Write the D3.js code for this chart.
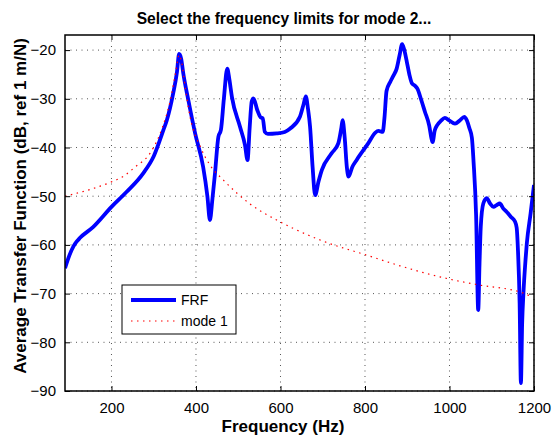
<!DOCTYPE html>
<html>
<head>
<meta charset="utf-8">
<script src="https://cdn.jsdelivr.net/npm/d3@7"></script>
<style>
  body { margin: 0; background: #fff; }
  svg { font-family: "Liberation Sans", Arial, Helvetica, sans-serif; }
</style>
</head>
<body>
<div id="chart"></div>
<script>
// Data: [frequency (Hz), level (dB)]
var frf = [
  [90,-64.8],[98,-62.7],[110,-60.3],[117,-59.4],[125,-58.6],[157,-56.3],[200,-52.2],
  [236,-49.1],[275,-45.3],[300,-41.8],[323,-36.4],[331,-34.4],[346,-28.9],[355,-24.5],
  [360,-20.8],[365,-21.8],[370,-24.8],[382,-30.3],[398,-37.1],[417,-44],[427,-50],
  [433,-54.9],[439,-50.5],[445,-45.3],[453,-37.8],[459,-36.4],[466,-30],[474,-23.8],
  [479,-26],[485,-29.6],[504,-35.7],[516,-39.5],[522,-42.6],[527,-36],[532,-30.5],
  [536,-29.9],[545,-32.3],[553,-33.8],[558,-34],[563,-36.8],[570,-37.2],[591,-37.1],
  [610,-36.8],[623,-36.1],[646,-33.7],[655,-31],[660,-29.5],[665,-32],[670,-35.7],
  [676,-44],[682,-49.8],[690,-47],[698,-44.6],[721,-41.2],[737,-39.1],[744,-36],
  [747,-34.4],[752,-38],[757,-44],[761,-46],[770,-44],[780,-42.6],[808,-39.1],
  [824,-37],[832,-36.6],[842,-36.8],[846,-34],[851,-28.4],[860,-26.5],[867,-25.3],
  [875,-23.8],[882,-21],[888,-18.8],[893,-20],[899,-22.4],[905,-25],[911,-26.8],
  [918,-27.3],[924,-27.9],[933,-30.2],[942,-32.7],[952,-35.5],[957,-38],[960,-38.9],
  [965,-36.5],[971,-35.4],[980,-34.5],[989,-33.9],[1000,-34.5],[1013,-35.1],[1025,-34.4],
  [1035,-33.7],[1041,-34.4],[1047,-36],[1053,-38],[1057,-43],[1063,-54],[1068,-73.4],
  [1071,-64],[1074,-56.3],[1080,-51.5],[1088,-50.4],[1096,-51.5],[1104,-52.2],
  [1112,-51.8],[1119,-51.5],[1127,-52.5],[1135,-53.2],[1145,-54.2],[1155,-55.2],
  [1159,-56.5],[1162,-61],[1166,-72],[1169,-88.4],[1172,-76],[1175,-69.9],[1180,-63],
  [1183,-59.7],[1192,-53.5],[1200,-47.7]
];

var mode1 = [
  [90,-50],[150,-48.6],[196,-47.2],[230,-45.8],[256,-44],[291,-41.2],[320,-36],
  [340,-30],[352,-24.5],[360,-21],[366,-22.5],[375,-28],[386,-33.7],[410,-39.8],
  [433,-43.6],[465,-46.7],[528,-51.6],[591,-54.9],[630,-56.6],[700,-59.2],[800,-62],
  [883,-64.3],[930,-65.5],[1009,-67.2],[1068,-68.2],[1175,-69.9],[1190,-70.5]
];

var xTicks = [200, 400, 600, 800, 1000, 1200];
var yTicks = [-90, -80, -70, -60, -50, -40, -30, -20];
var xLimits = [90, 1200];
var yLimits = [-90, -16.9];

var legendNames = ["FRF", "mode 1"];
var titleText = "Select the frequency limits for mode 2...";
var xLabelText = "Frequency (Hz)";
var yLabelText = "Average Transfer Function (dB, ref 1 m/N)";

//Margins and dimensions
var W = 552, H = 440;
var margin = { top: 35, right: 18, bottom: 49, left: 65 },
    width = W - margin.left - margin.right,
    height = H - margin.top - margin.bottom;

var svg = d3.select("#chart")
    .append("svg")
    .attr("width", W)
    .attr("height", H);

var g = svg.append("g")
    .attr("transform", "translate(" + margin.left + "," + margin.top + ")");

var x = d3.scaleLinear().domain(xLimits).range([0, width]);
var y = d3.scaleLinear().domain(yLimits).range([height, 0]);

// grid
g.append("g").selectAll("line")
    .data(xTicks)
    .enter().append("line")
    .attr("x1", function (d) { return x(d); })
    .attr("x2", function (d) { return x(d); })
    .attr("y1", 0).attr("y2", height)
    .attr("stroke", "#555")
    .attr("stroke-width", 1)
    .attr("stroke-dasharray", "1,4.5");

g.append("g").selectAll("line")
    .data(yTicks)
    .enter().append("line")
    .attr("y1", function (d) { return y(d); })
    .attr("y2", function (d) { return y(d); })
    .attr("x1", 0).attr("x2", width)
    .attr("stroke", "#555")
    .attr("stroke-width", 1)
    .attr("stroke-dasharray", "1,4.5");

// clip
svg.append("defs").append("clipPath").attr("id", "clip")
    .append("rect").attr("width", width).attr("height", height);

var line = d3.line()
    .x(function (d) { return x(d[0]); })
    .y(function (d) { return y(d[1]); })
    .curve(d3.curveMonotoneX);

var plot = g.append("g").attr("clip-path", "url(#clip)");

plot.append("path")
    .datum(frf)
    .attr("fill", "none")
    .attr("stroke", "#0000ff")
    .attr("stroke-width", 3.8)
    .attr("stroke-linejoin", "round")
    .attr("d", line);

plot.append("path")
    .datum(mode1)
    .attr("fill", "none")
    .attr("stroke", "#ff0000")
    .attr("stroke-width", 1.2)
    .attr("stroke-dasharray", "1.5,4.5")
    .attr("d", line);

// axes (ticks inside, box)
var xAxis = g.append("g")
    .attr("transform", "translate(0," + height + ")")
    .call(d3.axisBottom(x).tickValues(xTicks).tickSize(-5).tickPadding(11)
        .tickFormat(d3.format("d")));
var xAxisTop = g.append("g")
    .call(d3.axisTop(x).tickValues(xTicks).tickSize(-5).tickFormat(""));
var yAxis = g.append("g")
    .call(d3.axisLeft(y).tickValues(yTicks).tickSize(-5).tickPadding(9)
        .tickFormat(function (d) { return d < 0 ? "\u2212" + Math.abs(d) : d; }));
var yAxisRight = g.append("g")
    .attr("transform", "translate(" + width + ",0)")
    .call(d3.axisRight(y).tickValues(yTicks).tickSize(-5).tickFormat(""));

[xAxis, xAxisTop, yAxis, yAxisRight].forEach(function (a) {
    a.select(".domain").remove();
    a.selectAll("line").attr("stroke", "#000").attr("stroke-width", 1);
    a.selectAll("text").style("font-size", "15px").attr("fill", "#000")
        .style("font-family", "'Liberation Sans', Arial, sans-serif");
});

g.append("rect")
    .attr("width", width).attr("height", height)
    .attr("fill", "none")
    .attr("stroke", "#000")
    .attr("stroke-width", 1.5);

// Title
svg.append("text")
    .attr("x", 284)
    .attr("y", 24)
    .attr("text-anchor", "middle")
    .style("font-size", "15.6px")
    .style("font-weight", "bold")
    .text(titleText);

// X label
svg.append("text")
    .attr("x", 283)
    .attr("y", 432)
    .attr("text-anchor", "middle")
    .style("font-size", "17px")
    .style("font-weight", "bold")
    .text(xLabelText);

// Y label
svg.append("text")
    .attr("transform", "translate(26," + 206 + ") rotate(-90)")
    .attr("text-anchor", "middle")
    .style("font-size", "17px")
    .style("font-weight", "bold")
    .text(yLabelText);

// Legend
var leg = svg.append("g").attr("transform", "translate(122,285)");
leg.append("rect")
    .attr("width", 114).attr("height", 49)
    .attr("fill", "#fff")
    .attr("stroke", "#000")
    .attr("stroke-width", 1);
var legStyles = [
    { color: "#0000ff", w: 3.8, dash: null },
    { color: "#ff0000", w: 1.2, dash: "1.5,4.5" }
];
legendNames.forEach(function (name, i) {
    var yy = 15 + i * 21;
    leg.append("line")
        .attr("x1", 9).attr("x2", 54)
        .attr("y1", yy).attr("y2", yy)
        .attr("stroke", legStyles[i].color)
        .attr("stroke-width", legStyles[i].w)
        .attr("stroke-dasharray", legStyles[i].dash);
    leg.append("text")
        .attr("x", 59).attr("y", yy + 5)
        .style("font-size", "14px")
        .text(name);
});
</script>
</body>
</html>
